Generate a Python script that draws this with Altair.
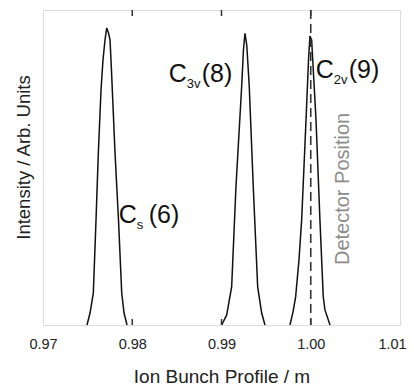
import altair as alt
import pandas as pd

# ---- data ----
x_ticks = [0.97, 0.98, 0.99, 1.00, 1.01]
inner_ticks = [0.98, 0.99, 1.00]

cs_x = [0.97493, 0.97527, 0.97564, 0.97594, 0.97620, 0.97650, 0.97672, 0.97695, 0.97714,
        0.97734, 0.97751, 0.97767, 0.97807, 0.97846, 0.97882, 0.97908, 0.97941]
cs_y = [0.0, 0.038, 0.102, 0.333, 0.546, 0.746, 0.841, 0.905, 0.943,
        0.927, 0.905, 0.810, 0.546, 0.333, 0.102, 0.038, 0.0]

c3v_x = [0.99002, 0.99058, 0.99114, 0.99162, 0.99226, 0.99246, 0.99263,
         0.99283, 0.99311, 0.99356, 0.99405, 0.99450, 0.99487]
c3v_y = [0.0, 0.032, 0.122, 0.439, 0.757, 0.873, 0.926,
         0.889, 0.757, 0.439, 0.122, 0.038, 0.0]

c2v_x = [0.99767, 0.99801, 0.99831, 0.99868, 0.99898, 0.99947, 0.99975, 0.99991,
         1.00010, 1.00059, 1.00103, 1.00140, 1.00159, 1.00216]
c2v_y = [0.0, 0.041, 0.090, 0.206, 0.333, 0.651, 0.841, 0.917,
         0.905, 0.651, 0.333, 0.090, 0.048, 0.0]

detector_x = 1.00

# label anchors (data units): main text, subscript, parenthesis part
label_main = ["C", "C", "C"]
label_sub = ["s", "3v", "2v"]
label_paren = ["(6)", "(8)", "(9)"]
label_x = [0.97848, 0.98408, 1.00056]
label_y = [0.324, 0.771, 0.784]
label_sub_dx = [18, 18, 18]
label_paren_dx = [30, 33, 33]

det_text = "Detector Position"
det_x = 1.00361
det_y = 0.432

# ---- build tables ----
peaks = pd.concat([
    pd.DataFrame({"x": cs_x, "y": cs_y, "peak": "Cs"}),
    pd.DataFrame({"x": c3v_x, "y": c3v_y, "peak": "C3v"}),
    pd.DataFrame({"x": c2v_x, "y": c2v_y, "peak": "C2v"}),
], ignore_index=True)

xscale = alt.Scale(domain=[0.97, 1.01], nice=False, zero=False)
yscale = alt.Scale(domain=[0, 1], nice=False, zero=False)

lines = alt.Chart(peaks).mark_line(color="#111", strokeWidth=1.5).encode(
    x=alt.X("x:Q", scale=xscale,
            axis=alt.Axis(values=x_ticks, format=".2f", title="Ion Bunch Profile / m",
                          labelFontSize=14.5, titleFontSize=19, ticks=False, domain=False,
                          grid=False, labelPadding=12, titlePadding=17, labelFlush=False,
                          labelOffset={"condition": {"test": "datum.value > 1.005", "value": -8},
                                       "value": 0},
                          labelColor="#222", titleColor="#222", titleFontWeight="normal")),
    y=alt.Y("y:Q", scale=yscale,
            axis=alt.Axis(title="Intensity / Arb. Units", labels=False, ticks=False,
                          domain=False, grid=False, titleFontSize=18.5, titleX=-20,
                          titleY=147, titleBaseline="middle", titleColor="#222",
                          titleFontWeight="normal")),
    detail="peak:N",
)

det_df = pd.DataFrame({"x": [detector_x]})
det_rule = alt.Chart(det_df).mark_rule(color="#333", strokeWidth=1.6, strokeDash=[9, 5]).encode(
    x=alt.X("x:Q", scale=xscale)
)

tick_df = pd.DataFrame({"x": inner_ticks})
ticks_bottom = alt.Chart(tick_df).mark_rule(color="#333", strokeWidth=1.5).encode(
    x=alt.X("x:Q", scale=xscale), y=alt.value(315), y2=alt.value(309)
)
ticks_top = alt.Chart(tick_df).mark_rule(color="#333", strokeWidth=1.5).encode(
    x=alt.X("x:Q", scale=xscale), y=alt.value(0), y2=alt.value(6)
)

layers = [lines, det_rule, ticks_bottom, ticks_top]

for i in range(len(label_main)):
    ldf = pd.DataFrame({"x": [label_x[i]], "y": [label_y[i]], "m": [label_main[i]],
                        "s": [label_sub[i]], "p": [label_paren[i]]})
    base = alt.Chart(ldf)
    layers.append(base.mark_text(align="left", baseline="alphabetic", fontSize=25,
                                 color="#111").encode(
        x=alt.X("x:Q", scale=xscale), y=alt.Y("y:Q", scale=yscale), text="m:N"))
    layers.append(base.mark_text(align="left", baseline="alphabetic", fontSize=13,
                                 dx=label_sub_dx[i], dy=6, color="#111").encode(
        x=alt.X("x:Q", scale=xscale), y=alt.Y("y:Q", scale=yscale), text="s:N"))
    layers.append(base.mark_text(align="left", baseline="alphabetic", fontSize=25,
                                 dx=label_paren_dx[i], color="#111").encode(
        x=alt.X("x:Q", scale=xscale), y=alt.Y("y:Q", scale=yscale), text="p:N"))

ddf = pd.DataFrame({"x": [det_x], "y": [det_y], "t": [det_text]})
layers.append(alt.Chart(ddf).mark_text(angle=270, align="center", baseline="middle",
                                       fontSize=20, color="#8c8c8c").encode(
    x=alt.X("x:Q", scale=xscale), y=alt.Y("y:Q", scale=yscale), text="t:N"))

chart = alt.layer(*layers).properties(
    width=357, height=315, autosize="none",
    padding={"left": 35, "top": 2, "right": 6, "bottom": 64},
).configure_view(stroke="#333", strokeWidth=1.5).configure(font="Liberation Sans")

chart.save("out.html", embed_options={"renderer": "svg", "actions": False})
